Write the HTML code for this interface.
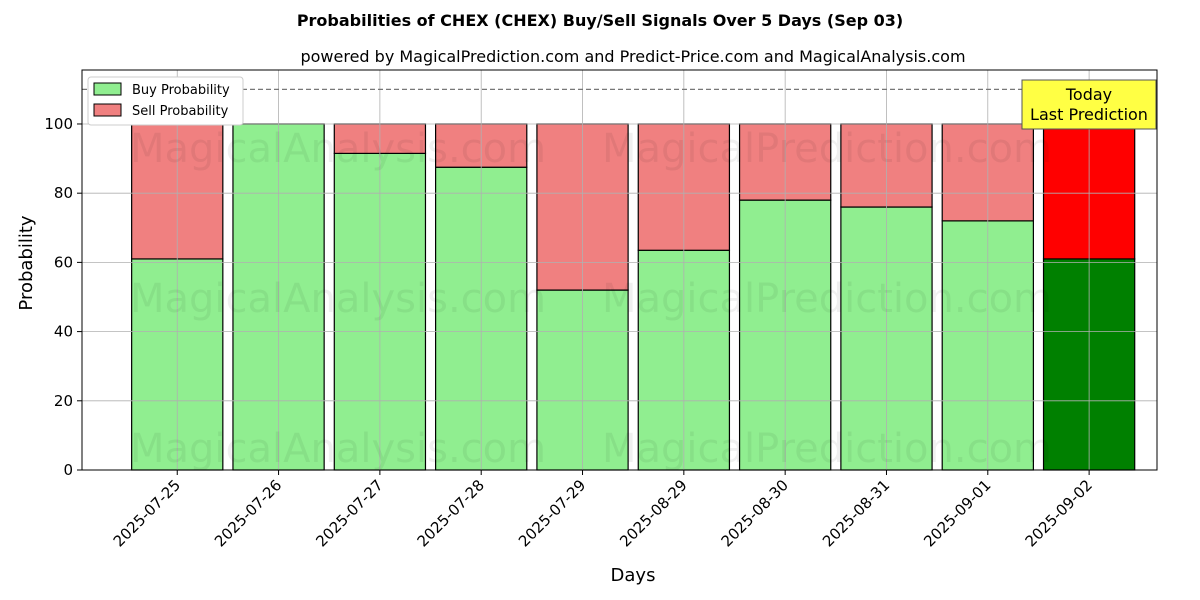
<!DOCTYPE html>
<html><head><meta charset="utf-8"><style>
body{margin:0;background:#fff;}
svg{display:block;font-family:"DejaVu Sans","Liberation Sans",sans-serif;}
</style></head><body>
<svg id="chart" width="1200" height="600" xmlns="http://www.w3.org/2000/svg">
<text x="600" y="26" text-anchor="middle" font-size="16" font-weight="bold">Probabilities of CHEX (CHEX) Buy/Sell Signals Over 5 Days (Sep 03)</text>
<text x="633" y="62" text-anchor="middle" font-size="16">powered by MagicalPrediction.com and Predict-Price.com and MagicalAnalysis.com</text>
<g id="bars"></g>
<g id="grid"></g>
<g id="wm" font-size="40" fill="#000" fill-opacity="0.06">
<text x="130" y="162">MagicalAnalysis.com</text>
<text x="602" y="162">MagicalPrediction.com</text>
<text x="130" y="312">MagicalAnalysis.com</text>
<text x="602" y="312">MagicalPrediction.com</text>
<text x="130" y="462">MagicalAnalysis.com</text>
<text x="602" y="462">MagicalPrediction.com</text>
</g>
<g id="axes"></g>
<text x="41" y="272" text-anchor="middle" font-size="18" transform="rotate(-90 32 272)">Probability</text>
<text x="633" y="581" text-anchor="middle" font-size="18">Days</text>
<g>
<rect x="88" y="77" width="155" height="48" fill="#fff" stroke="#ccc" rx="3"/>
<rect x="94" y="83" width="27" height="12" fill="#90ee90" stroke="#000"/>
<text x="132" y="94" font-size="13">Buy Probability</text>
<rect x="94" y="104" width="27" height="12" fill="#f08080" stroke="#000"/>
<text x="132" y="115" font-size="13">Sell Probability</text>
</g>
<g>
<rect x="1022" y="80" width="134" height="49" fill="#ffff44" stroke="#555"/>
<text x="1089" y="100" text-anchor="middle" font-size="16">Today</text>
<text x="1089" y="120" text-anchor="middle" font-size="16">Last Prediction</text>
</g>
</svg>
<script>
const categories=["2025-07-25","2025-07-26","2025-07-27","2025-07-28","2025-07-29","2025-08-29","2025-08-30","2025-08-31","2025-09-01","2025-09-02"];
const buyValues=[61,100,91.5,87.5,52,63.5,78,76,72,61];
const sellValues=[39,0,8.5,12.5,48,36.5,22,24,28,39];
const yTicks=[0,20,40,60,80,100];
const NS="http://www.w3.org/2000/svg";
const L=82,R=1157,T=70,B=470,yMax=115.6,xMin=-0.94,xMax=9.67,bw=0.9;
const X=v=>L+(v-xMin)/(xMax-xMin)*(R-L);
const Y=v=>B-v/yMax*(B-T);
function mk(tag,attrs,parent){const e=document.createElementNS(NS,tag);for(const k in attrs)e.setAttribute(k,attrs[k]);parent.appendChild(e);return e;}
const bars=document.getElementById('bars'),grid=document.getElementById('grid'),axes=document.getElementById('axes');
categories.forEach((c,i)=>{
 const last=i===categories.length-1;
 const x0=X(i-bw/2),w=X(i+bw/2)-x0;
 const b=mk('rect',{x:x0,y:Y(buyValues[i]),width:w,height:Y(0)-Y(buyValues[i]),fill:last?'#008000':'#90ee90',stroke:'#000','stroke-width':1.2},bars);
 
 
 const s=mk('rect',{x:x0,y:Y(buyValues[i]+sellValues[i]),width:w,height:Y(buyValues[i])-Y(buyValues[i]+sellValues[i]),fill:last?'#ff0000':'#f08080',stroke:'#000','stroke-width':1.2},bars);
 
 
 mk('line',{x1:X(i),x2:X(i),y1:T,y2:B,stroke:'#b0b0b0','stroke-width':0.8},grid);
 mk('line',{x1:X(i),x2:X(i),y1:B,y2:B+5,stroke:'#000'},axes);
 const t=mk('text',{x:X(i)+4,y:B+16,'font-size':15,'text-anchor':'end',transform:`rotate(-45 ${X(i)+4} ${B+16})`},axes);
 t.textContent=c;
 
 
});
yTicks.forEach(v=>{
 mk('line',{x1:L,x2:R,y1:Y(v),y2:Y(v),stroke:'#b0b0b0','stroke-width':0.8},grid);
 mk('line',{x1:L-5,x2:L,y1:Y(v),y2:Y(v),stroke:'#000'},axes);
 const t=mk('text',{x:L-9,y:Y(v)+5,'font-size':15,'text-anchor':'end'},axes);
 t.textContent=v;
 
 
});
mk('line',{x1:L,x2:R,y1:Y(110),y2:Y(110),stroke:'#777','stroke-dasharray':'5,3','stroke-width':1.2},grid);
mk('rect',{x:L,y:T,width:R-L,height:B-T,fill:'none',stroke:'#000','stroke-width':1},axes);
</script>
</body></html>
